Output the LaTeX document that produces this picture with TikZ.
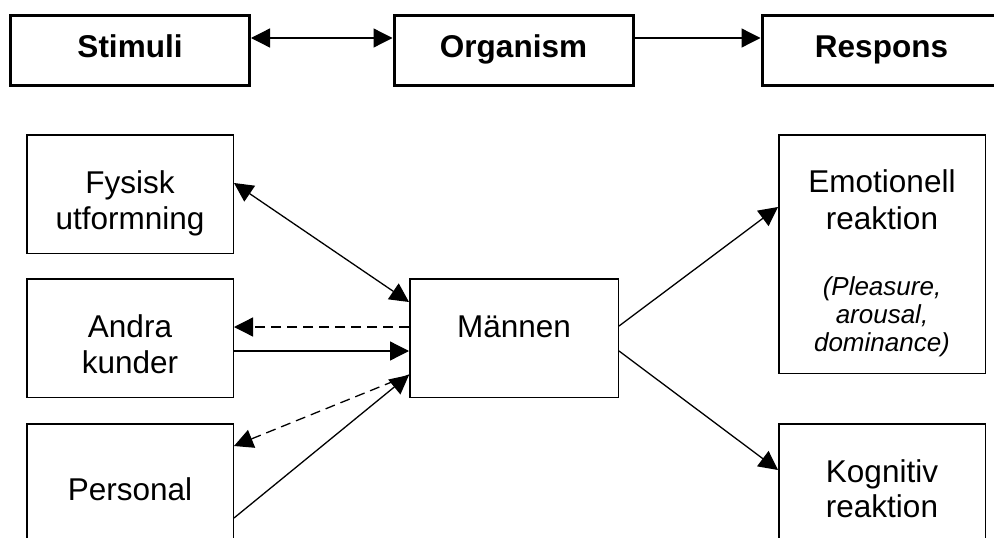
\documentclass[tikz,border=0pt]{standalone}
\usepackage{fontspec}
\setmainfont{Liberation Sans}
\usetikzlibrary{arrows.meta,calc}
\begin{document}
\begin{tikzpicture}[x=1pt,y=-1pt,
  headbox/.style={draw, line width=3pt, minimum width=239pt, minimum height=70pt, inner sep=0pt},
  partbox/.style={draw, line width=1.5pt, minimum width=206.5pt, inner sep=0pt},
  headtxt/.style={inner sep=0pt, anchor=base, font=\fontsize{31.5}{36}\selectfont\bfseries},
  bodytxt/.style={inner sep=0pt, anchor=base, font=\fontsize{31.5}{36}\selectfont},
  notetxt/.style={inner sep=0pt, anchor=base, font=\fontsize{26}{29}\selectfont\itshape},
  link/.style={line width=1.3pt, -{Triangle[length=19pt,width=19pt]}},
  dlink/.style={link, dash pattern=on 10pt off 6pt},
  blink/.style={line width=1.3pt, {Triangle[length=19pt,width=19pt]}-{Triangle[length=19pt,width=19pt]}}]
\useasboundingbox (0,0) rectangle (994,538);

% S-O-R heading row
\node[headbox] (stim) at (130,50.5) {};
\node[headbox] (org)  at (513.5,50.5) {};
\node[headbox] (resp) at (881.5,50.5) {};
\node[headtxt] (stimt) at (130,57) {Stimuli};
\node[headtxt] (orgt)  at (513.5,57) {Organism};
\node[headtxt] (respt) at (881.5,57) {Respons};
\draw[blink] ($(stim.east)+(0,-12.5)$) -- ($(org.west)+(0,-12.5)$);
\draw[link]  ($(org.east)+(0,-12.5)$) -- ($(resp.west)+(0,-12.5)$);

% stimulus boxes
\node[partbox, minimum height=118.5pt] (fys) at (130,194) {};
\node[partbox, minimum height=118.5pt] (and) at (130,338) {};
\node[partbox, minimum height=118.5pt] (per) at (130,483) {};
\node[bodytxt] (fyst1) at (130,193) {Fysisk};
\node[bodytxt] (fyst2) at (130,229) {utformning};
\node[bodytxt] (andt1) at (130,337) {Andra};
\node[bodytxt] (andt2) at (130,373) {kunder};
\node[bodytxt] (pert)  at (130,500) {Personal};

% organism
\node[partbox, minimum width=208.5pt, minimum height=118.5pt] (man) at (514,338) {};
\node[bodytxt] (mant) at (514,337) {Männen};

% responses
\node[partbox, minimum height=238.5pt] (emo) at (882,254) {};
\node[partbox, minimum height=118.5pt] (kog) at (882,483) {};
\node[bodytxt] (emot1) at (882,192) {Emotionell};
\node[bodytxt] (emot2) at (882,229) {reaktion};
\node[notetxt] (emon1) at (882,295) {(Pleasure,};
\node[notetxt] (emon2) at (882,323) {arousal,};
\node[notetxt] (emon3) at (882,351) {dominance)};
\node[bodytxt] (kogt1) at (882,482) {Kognitiv};
\node[bodytxt] (kogt2) at (882,517) {reaktion};

% connectors
\draw[blink] ($(fys.east)+(0,-11)$) -- ($(man.west)+(0,-36)$);
\draw[dlink] ($(man.west)+(0,-11)$) -- ($(and.east)+(0,-11)$);
\draw[link]  ($(and.east)+(0,13)$) -- ($(man.west)+(0,13)$);
\draw[dlink] ($(man.west)+(0,37)$) -- ($(per.north east)+(0,23)$);
\draw[link]  ($(per.north east)+(0,95)$) -- ($(man.west)+(0,37)$);
\draw[link]  ($(man.east)+(0,-12)$) -- ($(emo.west)+(0,-47)$);
\draw[link]  ($(man.east)+(0,13)$) -- ($(kog.west)+(0,-13)$);
\end{tikzpicture}
\end{document}
